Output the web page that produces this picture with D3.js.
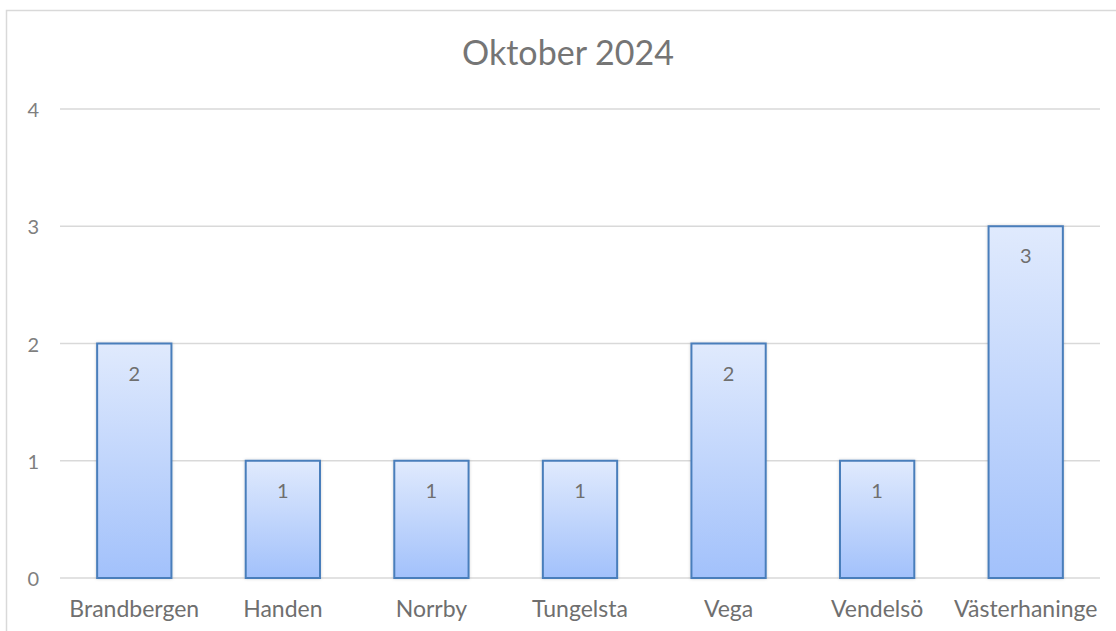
<!DOCTYPE html>
<html>
<head>
<meta charset="utf-8">
<script src="https://cdn.jsdelivr.net/npm/d3@7"></script>
<style>
  body { margin: 0; background: #fff; }
  svg { display: block; font-family: Lato, "Open Sans", sans-serif; }
</style>
</head>
<body>
<div id="chart"></div>
<script>
    // Data
    var categories = ["Brandbergen", "Handen", "Norrby", "Tungelsta", "Vega", "Vendelsö", "Västerhaninge"]
    var values = [2, 1, 1, 1, 2, 1, 3]
    var yTicks = [0, 1, 2, 3, 4]
    var title = "Oktober 2024"

    var canvas = ({width: 1116, height: 631})
    var margin = ({top: 109, right: 16, bottom: 53, left: 60})
    var grey = "#7f7f7f"

    var svg = d3.select("#chart").append("svg")
        .attr("width", canvas.width)
        .attr("height", canvas.height)

    var defs = svg.append("defs")
    var grad = defs.append("linearGradient")
        .attr("id", "barfill")
        .attr("x1", 0).attr("y1", 0).attr("x2", 0).attr("y2", 1)
    grad.append("stop").attr("offset", "0%").attr("stop-color", "#e0eafd")
    grad.append("stop").attr("offset", "100%").attr("stop-color", "#a2c1fb")

    var shadow = defs.append("filter").attr("id", "shadow")
        .attr("x", "-20%").attr("y", "-20%").attr("width", "140%").attr("height", "140%")
    shadow.append("feDropShadow")
        .attr("dx", 0).attr("dy", 0).attr("stdDeviation", 1.5)
        .attr("flood-color", "#000").attr("flood-opacity", 0.18)

    // outer chart border
    svg.append("rect")
        .attr("x", 6.5).attr("y", 10.5)
        .attr("width", 1200).attr("height", 700)
        .attr("fill", "none")
        .attr("stroke", "#d9d9d9")
        .attr("stroke-width", 1.5)

    var x = d3.scaleBand()
        .domain(categories)
        .range([margin.left, canvas.width - margin.right])
        .paddingInner(0.5)
        .paddingOuter(0.25)

    var y = d3.scaleLinear()
        .domain([0, 4])
        .range([canvas.height - margin.bottom, margin.top])

    // gridlines
    svg.append("g")
        .selectAll("line")
        .data(yTicks)
        .join("line")
        .attr("x1", margin.left)
        .attr("x2", canvas.width - margin.right)
        .attr("y1", d => y(d))
        .attr("y2", d => y(d))
        .attr("stroke", "#d9d9d9")
        .attr("stroke-width", 1.5)

    // y tick labels
    svg.append("g")
        .selectAll("text")
        .data(yTicks)
        .join("text")
        .attr("x", 39)
        .attr("y", d => y(d) + 8)
        .attr("text-anchor", "end")
        .attr("fill", grey)
        .attr("font-size", 20)
        .text(d => d)

    // bars
    svg.append("g")
        .selectAll("rect")
        .data(values)
        .join("rect")
        .attr("x", (d, i) => x(categories[i]))
        .attr("y", d => y(d))
        .attr("width", x.bandwidth())
        .attr("height", d => y(0) - y(d))
        .attr("fill", "url(#barfill)")
        .attr("stroke", "#4a7ebb")
        .attr("stroke-width", 2)
        .attr("filter", "url(#shadow)")

    // value labels
    svg.append("g")
        .selectAll("text")
        .data(values)
        .join("text")
        .attr("x", (d, i) => x(categories[i]) + x.bandwidth() / 2)
        .attr("y", d => y(d) + 37)
        .attr("text-anchor", "middle")
        .attr("fill", "#6f6f6f")
        .attr("font-size", 20)
        .text(d => d)

    // category labels
    svg.append("g")
        .selectAll("text")
        .data(categories)
        .join("text")
        .attr("x", d => x(d) + x.bandwidth() / 2)
        .attr("y", canvas.height - 14)
        .attr("text-anchor", "middle")
        .attr("fill", "#6f6f6f")
        .attr("font-size", 23)
        .text(d => d)

    // title
    svg.append("text")
        .attr("x", 568)
        .attr("y", 65)
        .attr("text-anchor", "middle")
        .attr("fill", "#757575")
        .attr("font-size", 34)
        .text(title)
</script>
</body>
</html>
